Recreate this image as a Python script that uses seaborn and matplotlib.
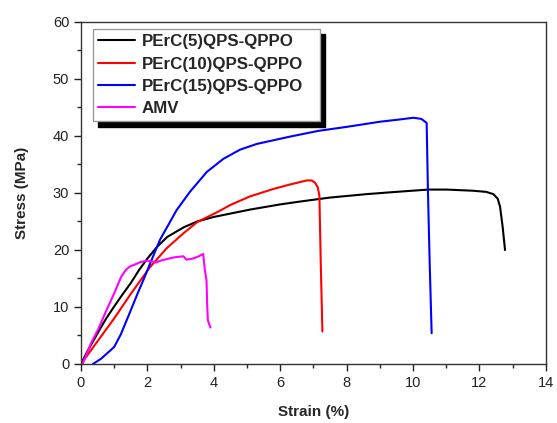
import pandas as pd
import matplotlib.pyplot as plt
import seaborn as sns
from matplotlib.ticker import MultipleLocator

# PErC(5)QPS-QPPO
strain_5 = [0.0, 0.2, 0.5, 0.75, 1.0, 1.25, 1.5, 1.75, 2.0, 2.3, 2.6, 3.1, 3.5, 4.0, 5.1, 6.0, 6.6, 7.5,
            8.6, 9.5, 10.46, 11.0, 11.8, 12.2, 12.42, 12.55, 12.62, 12.7, 12.77]
stress_5 = [0.0, 2.3, 5.4, 7.9, 10.1, 12.2, 14.2, 16.5, 18.5, 20.6, 22.3, 24.0, 25.0, 25.8, 27.1, 28.0, 28.5, 29.2,
            29.8, 30.2, 30.6, 30.6, 30.4, 30.2, 29.8, 29.0, 27.6, 24.0, 20.0]

# PErC(10)QPS-QPPO
strain_10 = [0.0, 0.5, 1.0, 1.5, 2.08, 2.58, 3.08, 3.5, 4.09, 4.5, 5.09, 5.79, 6.3, 6.8, 6.95,
             7.05, 7.13, 7.18, 7.22, 7.27]
stress_10 = [0.0, 4.0, 8.0, 12.3, 17.0, 20.3, 22.9, 24.9, 26.6, 27.9, 29.4, 30.7, 31.5, 32.2, 32.2,
             31.8, 31.0, 29.5, 18.0, 5.7]

# PErC(15)QPS-QPPO
strain_15 = [0.36, 0.6, 0.87, 1.0, 1.2, 1.42, 1.7, 1.92, 2.08, 2.38, 2.88, 3.28, 3.79, 4.29, 4.79,
             5.29, 6.3, 7.15, 8.0, 9.0, 9.6, 10.01, 10.25, 10.41, 10.45, 10.5, 10.56]
stress_15 = [0.0, 0.9, 2.3, 3.0, 5.2, 8.3, 12.3, 15.3, 17.6, 21.8, 27.0, 30.2, 33.7, 36.0, 37.6,
             38.6, 39.9, 40.9, 41.6, 42.5, 42.9, 43.2, 43.0, 42.3, 30.0, 18.0, 5.4]

# AMV
strain_amv = [0.05, 0.3, 0.51, 0.75, 1.0, 1.21, 1.35, 1.47, 1.6, 1.8, 1.97, 2.15, 2.27, 2.38, 2.58,
              2.8, 3.08, 3.13, 3.18, 3.37, 3.55, 3.68, 3.73, 3.78, 3.8, 3.82, 3.86, 3.9]
stress_amv = [0.0, 3.6, 6.0, 9.2, 12.4, 15.3, 16.5, 17.1, 17.4, 17.9, 18.1, 18.0, 17.8, 18.1, 18.4,
              18.7, 18.9, 18.6, 18.3, 18.5, 18.9, 19.3, 16.5, 14.7, 10.5, 7.7, 7.0, 6.4]

labels = ["PErC(5)QPS-QPPO", "PErC(10)QPS-QPPO", "PErC(15)QPS-QPPO", "AMV"]
colors = ["#000000", "#ff0000", "#0000ff", "#ff00ff"]

frames = []
for lab, xs, ys in zip(labels, [strain_5, strain_10, strain_15, strain_amv],
                       [stress_5, stress_10, stress_15, stress_amv]):
    frames.append(pd.DataFrame({"strain": xs, "stress": ys, "sample": lab}))
df = pd.concat(frames, ignore_index=True)

sns.set_theme(style="ticks")
plt.rcParams["font.family"] = ["Liberation Sans", "DejaVu Sans"]

fig = plt.figure(figsize=(5.57, 4.23), dpi=100)
ax = fig.add_axes([0.1454, 0.1395, 0.8346, 0.8085])

sns.lineplot(data=df, x="strain", y="stress", hue="sample", hue_order=labels,
             palette=dict(zip(labels, colors)), sort=False, estimator=None,
             linewidth=1.5, ax=ax)

ax.set_xlim(0, 14)
ax.set_ylim(0, 60)
ax.xaxis.set_major_locator(MultipleLocator(2))
ax.xaxis.set_minor_locator(MultipleLocator(1))
ax.yaxis.set_major_locator(MultipleLocator(10))
ax.yaxis.set_minor_locator(MultipleLocator(5))
ax.tick_params(which="major", direction="out", length=5, width=1, labelsize=10.5,
               colors="#222222", top=False, right=False)
ax.tick_params(which="minor", direction="out", length=3, width=1, top=False, right=False)
for s in ax.spines.values():
    s.set_color("#333333")
    s.set_linewidth(1.0)

ax.set_xlabel("Strain (%)", fontsize=11, fontweight="bold", labelpad=11)
ax.set_ylabel("Stress (MPa)", fontsize=11, fontweight="bold", labelpad=17)

# legend box stretched to the reference width (Origin style padding on the right)
leg = ax.legend(loc="upper left", bbox_to_anchor=(0.025, 0.70, 0.489, 0.28), mode="expand",
                prop={"weight": "bold", "size": 12.2}, frameon=True, fancybox=False,
                edgecolor="#999999", framealpha=1, borderpad=0.33, labelspacing=0.42,
                handlelength=2.15, handletextpad=0.4, borderaxespad=0,
                shadow={"color": "black", "alpha": 1, "ox": 4, "oy": -4})
for line in leg.get_lines():
    line.set_linewidth(1.5)

fig.savefig("out.png", dpi=100)
